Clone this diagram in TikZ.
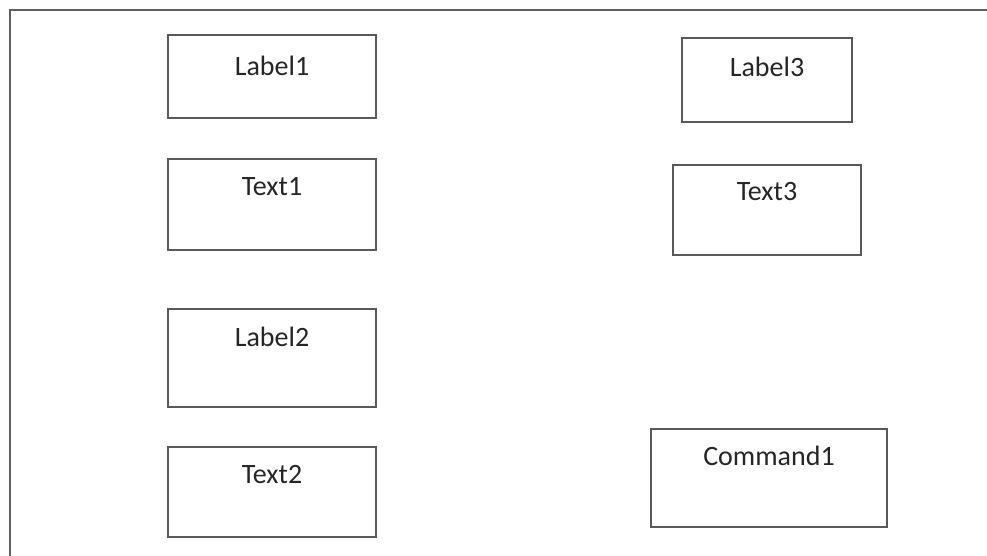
\documentclass[tikz,border=0pt]{standalone}
\usepackage{fontspec}
\setmainfont{Carlito}
\begin{document}
\begin{tikzpicture}[x=1pt,y=-1pt,
  frameline/.style={draw=black!62,line width=2.6pt},
  formbox/.style={draw=black!65,line width=2.4pt,fill=white,rectangle,inner sep=0pt},
  boxtext/.style={font=\fontsize{28}{32}\selectfont,text=black!85}]
\useasboundingbox (0,0) rectangle (987,555);
% outer window frame (runs past the right and bottom edges)
\draw[frameline] (10,600) -- (10,10) -- (1020,10);
% form controls: x1, y1, x2, y2, text offset from top
\foreach \nm/\xa/\ya/\xb/\yb/\off/\txt in {
  label1/168/35/376/118/32/Label1,
  text1/168/159/376/250/29/Text1,
  label2/168/309/376/407/29/Label2,
  text2/168/447/376/537/29/Text2,
  label3/682/38/852/122/30/Label3,
  text3/673/165/861/255/28/Text3,
  command1/651/429/887/527/28/Command1}{
  \node[formbox,minimum width=\xb-\xa,minimum height=\yb-\ya]
    (\nm) at ({(\xa+\xb)/2},{(\ya+\yb)/2}) {};
  \node[boxtext] (\nm-t) at ([yshift=-\off pt]\nm.north) {\txt};
}
\end{tikzpicture}
\end{document}
